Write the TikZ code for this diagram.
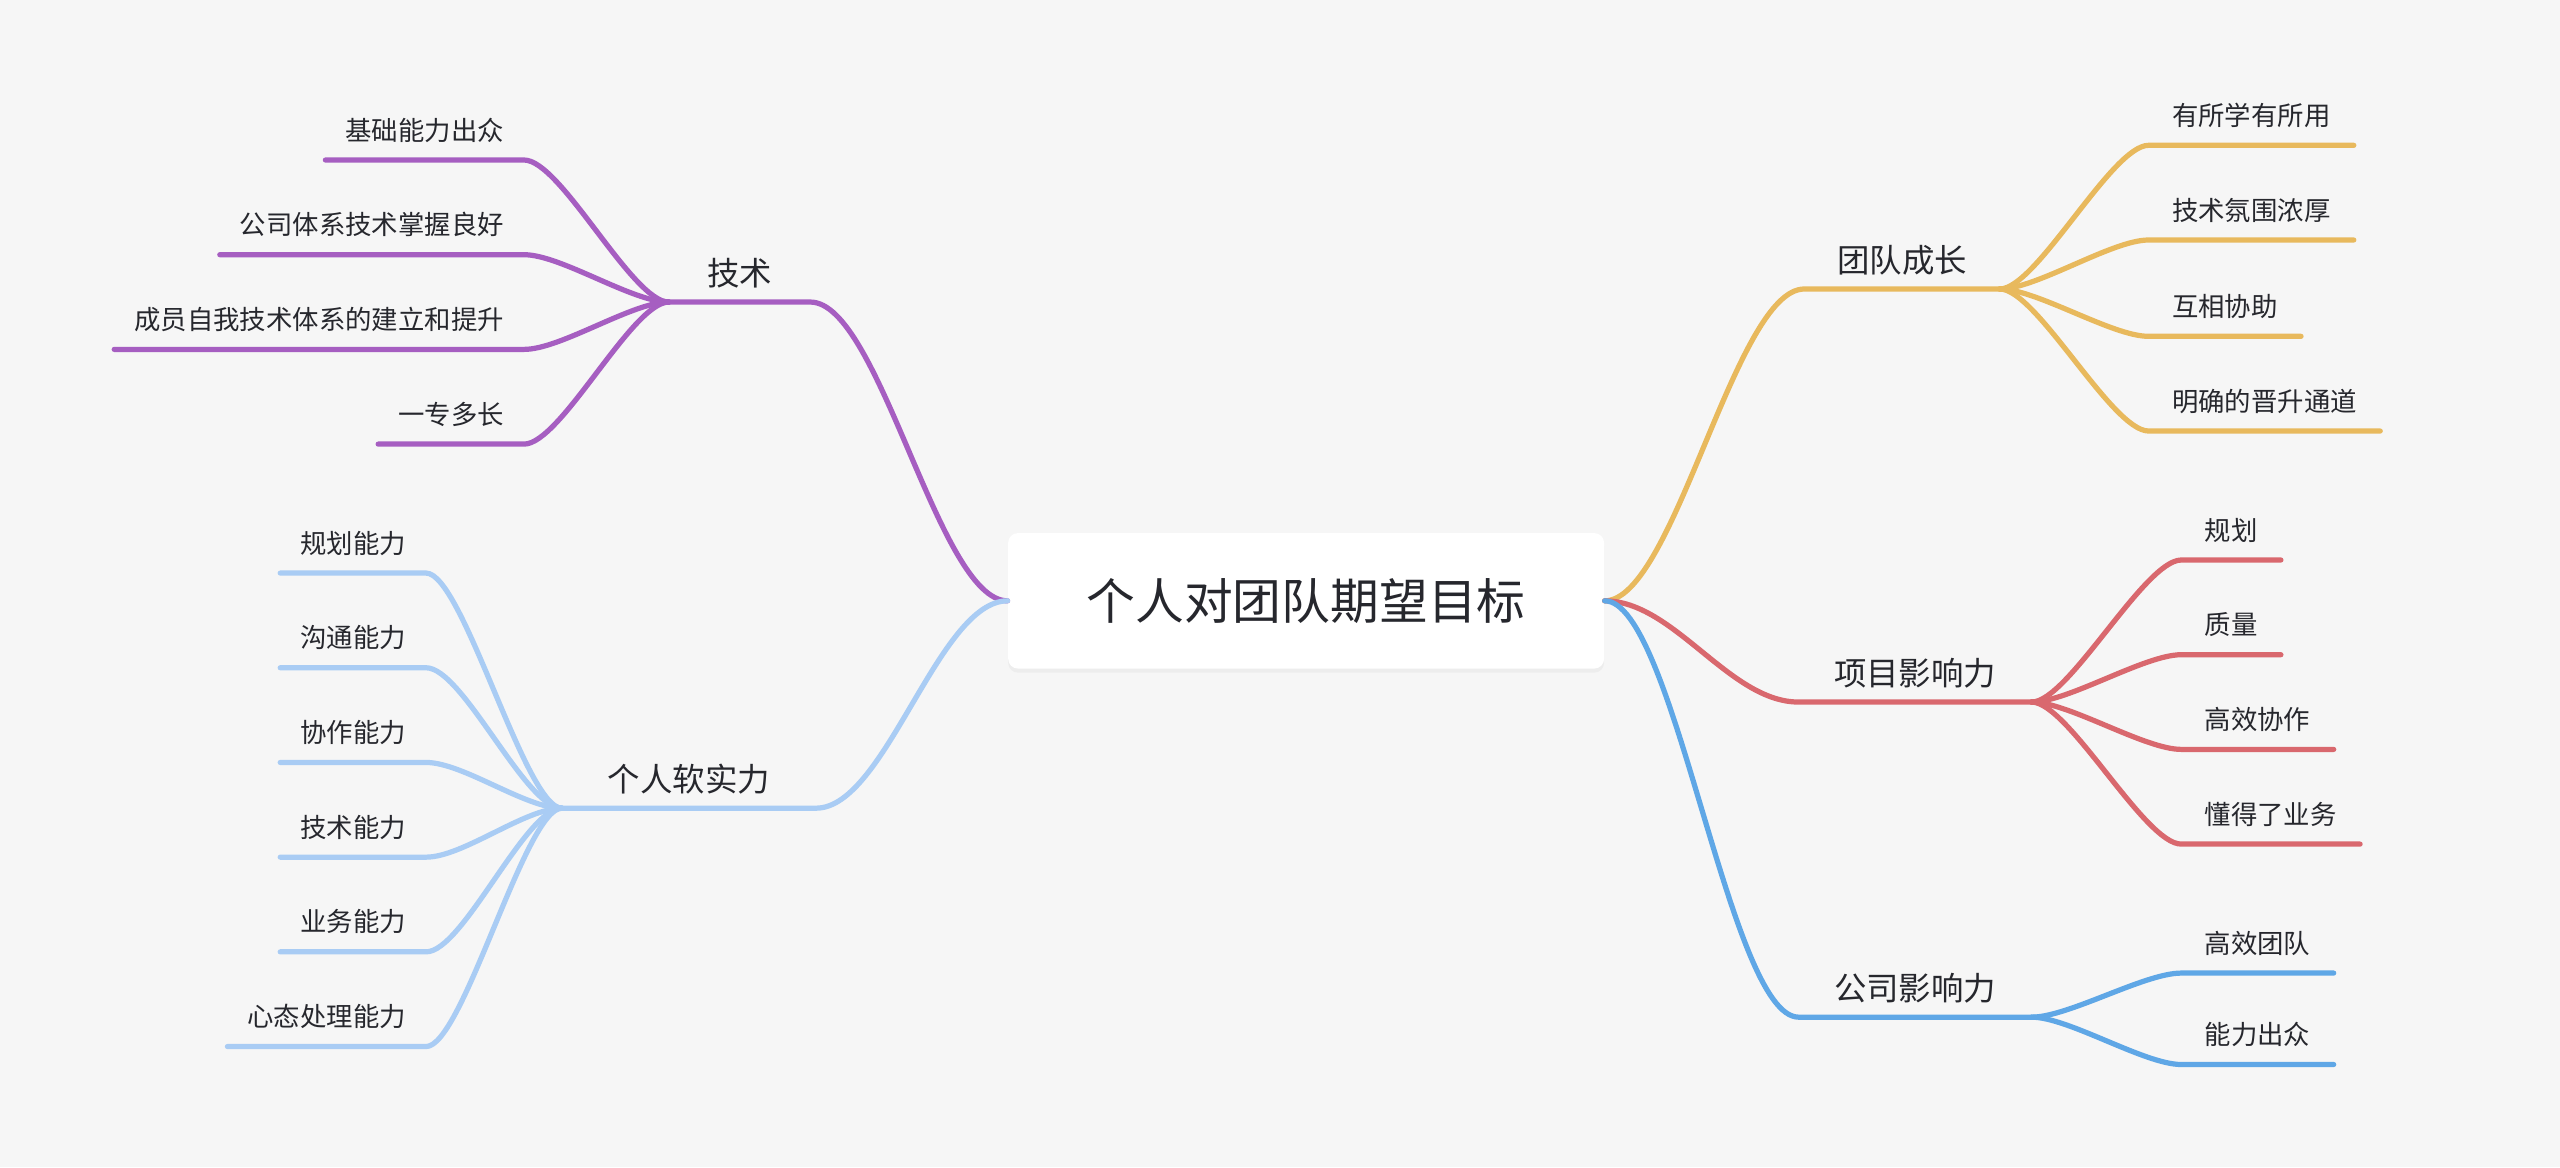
\documentclass[tikz,border=0pt]{standalone}
\usepackage{fontspec}
\newfontfamily\cjk{Noto Sans CJK SC}
\usetikzlibrary{shadows}
\definecolor{bgGray}{HTML}{F6F6F6}
\definecolor{inkGray}{HTML}{26272D}
\definecolor{mPurple}{HTML}{A65EC1}
\definecolor{mSky}{HTML}{A9CCF4}
\definecolor{mGold}{HTML}{E8B95D}
\definecolor{mRed}{HTML}{D9686E}
\definecolor{mBlue}{HTML}{5FA7E6}
\tikzset{
  root/.style={fill=white, rounded corners=1.2mm, minimum width=73mm, minimum height=16.6mm,
    font=\cjk\fontsize{17pt}{20pt}\selectfont, text=inkGray,
    drop shadow={shadow xshift=0mm, shadow yshift=-0.5mm, opacity=0.07}},
  topic/.style={font=\cjk\fontsize{11.3pt}{13pt}\selectfont, text=inkGray, anchor=south,
    minimum height=7mm, inner sep=0pt},
  leafL/.style={font=\cjk\fontsize{9.2pt}{11pt}\selectfont, text=inkGray, anchor=south east,
    minimum height=7.2mm, inner xsep=2.4mm, inner ysep=0pt},
  leafR/.style={leafL, anchor=south west, inner xsep=2.8mm},
  limb/.style={line width=0.64mm, line cap=round, line join=round},
  toL/.style={out=180, in=0, distance=#1},
  toR/.style={out=0, in=180, distance=#1},
}
\begin{document}
\begin{tikzpicture}[x=0.2mm, y=-0.2mm]
  \fill[bgGray] (0,0) rectangle (1568,715);
  \useasboundingbox (0,0) rectangle (1568,715);

  \node[root] (root) at (800,368) {个人对团队期望目标};

  % left side
  \node[topic, minimum width=17.2mm] (tec) at (453,185) {技术};
  \node[leafL] (a1) at (321,98) {基础能力出众};
  \node[leafL] (a2) at (321,156) {公司体系技术掌握良好};
  \node[leafL] (a3) at (321,214) {成员自我技术体系的建立和提升};
  \node[leafL] (a4) at (321,272) {一专多长};

  \node[topic, minimum width=31mm] (soft) at (422,495) {个人软实力};
  \node[leafL] (b1) at (261,351) {规划能力};
  \node[leafL] (b2) at (261,409) {沟通能力};
  \node[leafL] (b3) at (261,467) {协作能力};
  \node[leafL] (b4) at (261,525) {技术能力};
  \node[leafL] (b5) at (261,583) {业务能力};
  \node[leafL] (b6) at (261,641) {心态处理能力};

  % right side
  \node[topic, minimum width=23.8mm] (grow) at (1165,177) {团队成长};
  \node[leafR] (c1) at (1316,89) {有所学有所用};
  \node[leafR] (c2) at (1316,147) {技术氛围浓厚};
  \node[leafR] (c3) at (1316,206) {互相协助};
  \node[leafR] (c4) at (1316,264) {明确的晋升通道};

  \node[topic, minimum width=28.4mm] (proj) at (1173,430) {项目影响力};
  \node[leafR] (d1) at (1336,343) {规划};
  \node[leafR] (d2) at (1336,401) {质量};
  \node[leafR] (d3) at (1336,459) {高效协作};
  \node[leafR] (d4) at (1336,517) {懂得了业务};

  \node[topic, minimum width=28.4mm] (corp) at (1173,623) {公司影响力};
  \node[leafR] (e1) at (1336,596) {高效团队};
  \node[leafR] (e2) at (1336,652) {能力出众};

  % connectors
  \draw[limb, mPurple] (root.west) to[toL=8.5mm] (tec.south east) -- (tec.south west);
  \foreach \n in {a1,a2,a3,a4}
    \draw[limb, mPurple] (tec.south west) to[toL=4.5mm] (\n.south east) -- (\n.south west);

  \draw[limb, mSky] (root.west) to[toL=8.5mm] (soft.south east) -- (soft.south west);
  \foreach \n in {b1,b2,b3,b4,b5,b6}
    \draw[limb, mSky] (soft.south west) to[toL=4.5mm] (\n.south east) -- (\n.south west);

  \draw[limb, mGold] (root.east) to[toR=8.5mm] (grow.south west) -- (grow.south east);
  \foreach \n in {c1,c2,c3,c4}
    \draw[limb, mGold] (grow.south east) to[toR=4.5mm] (\n.south west) -- (\n.south east);

  \draw[limb, mRed] (root.east) to[toR=8.5mm] (proj.south west) -- (proj.south east);
  \foreach \n in {d1,d2,d3,d4}
    \draw[limb, mRed] (proj.south east) to[toR=4.5mm] (\n.south west) -- (\n.south east);

  \draw[limb, mBlue] (root.east) to[toR=8.5mm] (corp.south west) -- (corp.south east);
  \foreach \n in {e1,e2}
    \draw[limb, mBlue] (corp.south east) to[toR=4.5mm] (\n.south west) -- (\n.south east);
\end{tikzpicture}
\end{document}
